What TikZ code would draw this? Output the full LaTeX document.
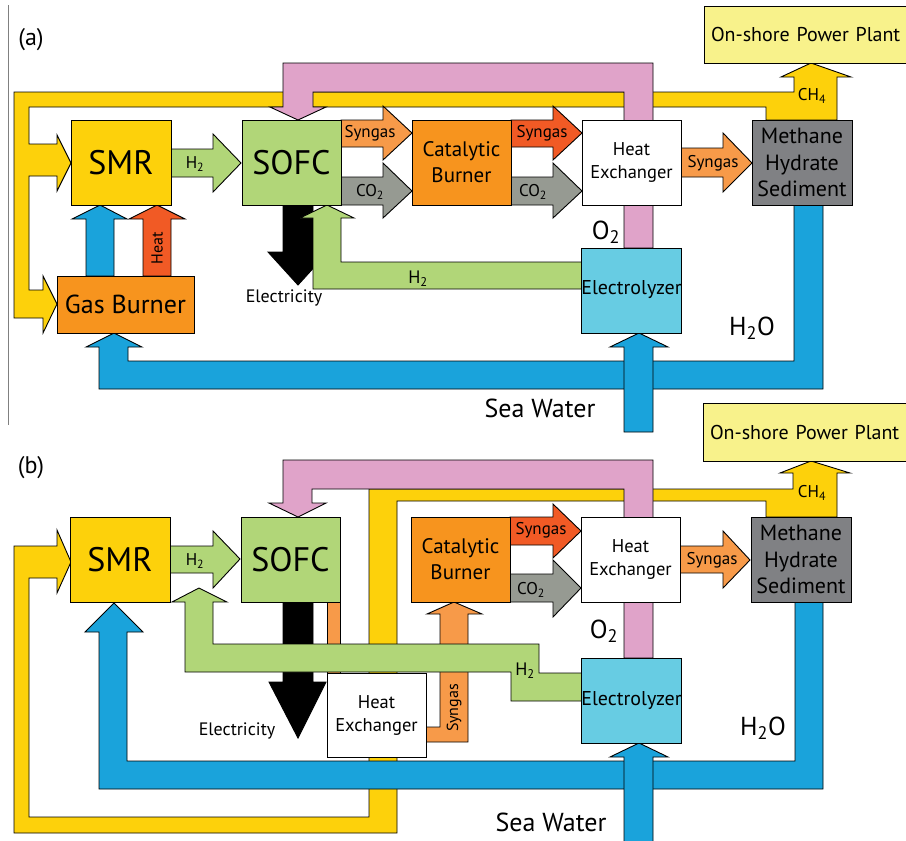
\documentclass[tikz,border=0pt]{standalone}
\usepackage{fontspec}
\setmainfont{PT Sans}
\usetikzlibrary{positioning}

\definecolor{yel}{HTML}{FDD10B}
\definecolor{pinkpipe}{HTML}{E0A3C9}
\definecolor{grn}{HTML}{B1D678}
\definecolor{blu}{HTML}{1AA3DB}
\definecolor{cyanbox}{HTML}{67CCE3}
\definecolor{orng}{HTML}{F7941E}
\definecolor{lorng}{HTML}{F79A49}
\definecolor{redor}{HTML}{F15A25}
\definecolor{gasgray}{HTML}{969A92}
\definecolor{sedgray}{HTML}{808184}
\definecolor{plantyel}{HTML}{F8F28B}

\newcommand{\fs}[1]{\fontsize{#1}{#1}\selectfont}
\newcommand{\subs}[1]{\textsubscript{#1}}

\begin{document}
\begin{tikzpicture}[x=1pt, y=-1pt,
    box/.style={draw, line width=0.9pt, inner sep=0pt, align=center},
    pipe/.style={draw, line width=0.9pt, line join=miter},
    lbl/.style={inner sep=0pt, align=center},
    huge/.style={font=\fs{34}},
    mid/.style={font=\fontsize{21}{26}\selectfont},
    small/.style={font=\fs{17}}
  ]
  \useasboundingbox (0,0) rectangle (906,841);
  \clip (0,0) rectangle (906,841);

  \draw[gray, line width=0.8pt] (8,5) -- (8,425);

  % ===================== (a) =====================
  \node[lbl, font=\fs{24}] (tagA) at (31,40) {(a)};

  % --- methane loop (behind the oxygen pipe) ---
  \filldraw[pipe, fill=yel] (14,92) -- (794,92) -- (794,77) -- (781,77) -- (811,63)
    -- (851,77) -- (837,77) -- (837,120) -- (766,120) -- (766,107) -- (29,107)
    -- (29,144) -- (57,144) -- (57,135) -- (71,163) -- (57,191) -- (57,176)
    -- (29,176) -- (29,290) -- (43,290) -- (43,276) -- (57,304) -- (43,333)
    -- (43,318) -- (14,318) -- cycle;

  % --- oxygen back to the SOFC ---
  \filldraw[pipe, fill=pinkpipe] (283,63) -- (653,63) -- (653,248) -- (624,248)
    -- (624,92) -- (313,92) -- (313,107) -- (326,107) -- (298,120) -- (270,107)
    -- (283,107) -- cycle;

  % --- electricity out ---
  \filldraw[pipe, fill=black] (283,205) -- (313,205) -- (313,252) -- (328,252)
    -- (298,285) -- (268,252) -- (283,252) -- cycle;

  % --- hydrogen from the electrolyzer ---
  \filldraw[pipe, fill=grn] (582,262) -- (341,262) -- (341,218) -- (354,218)
    -- (327,205) -- (300,218) -- (313,218) -- (313,289) -- (582,289) -- cycle;

  % --- water loop ---
  \filldraw[pipe, fill=blu] (794,205) -- (823,205) -- (823,389) -- (99,389)
    -- (99,347) -- (86,347) -- (114,333) -- (142,347) -- (128,347) -- (128,361)
    -- (794,361) -- cycle;
  \filldraw[pipe, fill=blu] (624,432) -- (624,347) -- (610,347) -- (639,333)
    -- (668,347) -- (653,347) -- (653,432) -- cycle;

  % --- short arrows ---
  \filldraw[pipe, fill=grn] (171,149) -- (213,149) -- (213,134) -- (241,163)
    -- (213,192) -- (213,177) -- (171,177) -- cycle;
  \filldraw[pipe, fill=lorng] (341,120) -- (383,120) -- (383,106) -- (412,133)
    -- (383,160) -- (383,147) -- (341,147) -- cycle;
  \filldraw[pipe, fill=gasgray] (341,177) -- (383,177) -- (383,163) -- (412,191)
    -- (383,218) -- (383,205) -- (341,205) -- cycle;
  \filldraw[pipe, fill=redor] (511,120) -- (553,120) -- (553,106) -- (582,133)
    -- (553,160) -- (553,147) -- (511,147) -- cycle;
  \filldraw[pipe, fill=gasgray] (511,177) -- (553,177) -- (553,163) -- (582,191)
    -- (553,218) -- (553,205) -- (511,205) -- cycle;
  \filldraw[pipe, fill=lorng] (681,148) -- (723,148) -- (723,133) -- (752,163)
    -- (723,192) -- (723,177) -- (681,177) -- cycle;
  \filldraw[pipe, fill=blu] (86,276) -- (86,219) -- (72,219) -- (100,205)
    -- (127,219) -- (114,219) -- (114,276) -- cycle;
  \filldraw[pipe, fill=redor] (143,276) -- (143,219) -- (129,219) -- (157,205)
    -- (185,219) -- (171,219) -- (171,276) -- cycle;

  % --- units ---
  \node[box, fill=yel, huge, minimum width=100pt, minimum height=85pt] (smrA) at (121,162.5) {SMR};
  \node[box, fill=grn, huge, minimum width=99pt, minimum height=85pt] (sofcA) at (291.5,162.5) {SOFC};
  \node[box, fill=orng, mid, minimum width=99pt, minimum height=85pt] (catA) at (461.5,162.5) {Catalytic\\Burner};
  \node[box, fill=white, font=\fontsize{18.5}{23}\selectfont, minimum width=99pt, minimum height=85pt] (hxA) at (631.5,162.5) {Heat\\Exchanger};
  \node[box, fill=sedgray, font=\fontsize{22}{26.5}\selectfont, minimum width=100pt, minimum height=85pt] (sedA) at (802,162.5) {Methane\\Hydrate\\Sediment};
  \node[box, fill=orng, font=\fs{26}, minimum width=137pt, minimum height=57pt] (burnerA) at (125.5,304.5) {Gas Burner};
  \node[box, fill=cyanbox, font=\fs{20}, minimum width=99pt, minimum height=85pt] (elecA) at (631.5,290.5) {\raisebox{7pt}{Electrolyzer}};
  \node[box, fill=plantyel, font=\fs{20}, minimum width=260pt, minimum height=57pt, text width=246pt, align=left] (plantA) at (834,34.5) {On-shore Power Plant};

  % --- labels ---
  \node[lbl, font=\fs{16}, rotate=90] (heatA) at (157,248) {Heat};
  \node[lbl, small] (h2smrA) at (195,164) {H\subs{2}};
  \node[lbl, font=\fs{17}] (syn1A) at (370,133) {Syngas};
  \node[lbl, font=\fs{17}] (co1A) at (370,192) {CO\subs{2}};
  \node[lbl, font=\fs{17}] (syn2A) at (542,133) {Syngas};
  \node[lbl, font=\fs{17}] (co2A) at (533,192) {CO\subs{2}};
  \node[lbl, font=\fs{17}] (syn3A) at (713,163) {Syngas};
  \node[lbl, font=\fs{17}] (ch4A) at (812,96) {CH\subs{4}};
  \node[lbl, font=\fs{18}] (elA) at (284,298) {Electricity};
  \node[lbl, font=\fs{18}] (h2retA) at (418,279) {H\subs{2}};
  \node[lbl, font=\fs{26}] (o2A) at (606,232) {O\subs{2}};
  \node[lbl, font=\fs{26}] (h2oA) at (752,328) {H\subs{2}O};
  \node[lbl, font=\fs{26}] (seaA) at (540,408) {Sea Water};

  % ===================== (b) =====================
  \node[lbl, font=\fs{24}] (tagB) at (31,468) {(b)};

  % --- methane loop (behind everything) ---
  \filldraw[pipe, fill=yel] (369,489) -- (793,489) -- (793,473) -- (780,473) -- (811,461)
    -- (850,473) -- (837,473) -- (837,517) -- (766,517) -- (766,501) -- (397,501)
    -- (397,833) -- (14,833) -- (14,546) -- (57,546) -- (57,530) -- (71,562)
    -- (57,593) -- (57,578) -- (29,578) -- (29,817) -- (369,817) -- cycle;

  % --- oxygen back to the SOFC ---
  \filldraw[pipe, fill=pinkpipe] (283,460) -- (653,460) -- (653,658) -- (624,658)
    -- (624,489) -- (312,489) -- (312,503) -- (326,503) -- (298,517) -- (269,503)
    -- (283,503) -- cycle;

  % --- electricity out and SOFC exhaust ---
  \filldraw[pipe, fill=black] (283,602) -- (313,602) -- (313,682) -- (326,682)
    -- (298,738) -- (269,682) -- (283,682) -- cycle;
  \filldraw[pipe, fill=lorng] (327,602) -- (340,602) -- (340,673) -- (327,673) -- cycle;
  \filldraw[pipe, fill=lorng] (426,727) -- (440,727) -- (440,614) -- (427,614)
    -- (454,602) -- (482,614) -- (468,614) -- (468,742) -- (426,742) -- cycle;

  % --- hydrogen from the electrolyzer ---
  \filldraw[pipe, fill=grn] (582,673) -- (539,673) -- (539,644) -- (213,644)
    -- (213,602) -- (227,602) -- (199,588) -- (172,602) -- (185,602) -- (185,672)
    -- (511,672) -- (511,701) -- (582,701) -- cycle;

  % --- water loop ---
  \filldraw[pipe, fill=blu] (795,602) -- (823,602) -- (823,789) -- (99,789)
    -- (99,632) -- (85,632) -- (114,603) -- (143,632) -- (127,632) -- (127,761)
    -- (795,761) -- cycle;
  \filldraw[pipe, fill=blu] (624,850) -- (624,757) -- (610,757) -- (639,743)
    -- (668,757) -- (653,757) -- (653,850) -- cycle;

  % --- short arrows ---
  \filldraw[pipe, fill=grn] (170,546) -- (213,546) -- (213,531) -- (240,559)
    -- (213,588) -- (213,573) -- (170,573) -- cycle;
  \filldraw[pipe, fill=redor] (510,517) -- (553,517) -- (553,504) -- (581,531)
    -- (553,558) -- (553,545) -- (510,545) -- cycle;
  \filldraw[pipe, fill=gasgray] (510,574) -- (553,574) -- (553,560) -- (581,588)
    -- (553,617) -- (553,602) -- (510,602) -- cycle;
  \filldraw[pipe, fill=lorng] (680,546) -- (723,546) -- (723,531) -- (750,560)
    -- (723,588) -- (723,573) -- (680,573) -- cycle;

  % --- units ---
  \node[box, fill=yel, huge, minimum width=100pt, minimum height=85pt] (smrB) at (120,559.5) {SMR};
  \node[box, fill=grn, huge, minimum width=99pt, minimum height=85pt] (sofcB) at (290.5,559.5) {SOFC};
  \node[box, fill=orng, mid, minimum width=99pt, minimum height=85pt] (catB) at (460.5,559.5) {Catalytic\\Burner};
  \node[box, fill=white, font=\fontsize{18.5}{23}\selectfont, minimum width=99pt, minimum height=85pt] (hxB) at (630.5,559.5) {Heat\\Exchanger};
  \node[box, fill=sedgray, font=\fontsize{22}{26.5}\selectfont, minimum width=100pt, minimum height=85pt] (sedB) at (801,559.5) {Methane\\Hydrate\\Sediment};
  \node[box, fill=white, font=\fontsize{18.5}{23}\selectfont, minimum width=99pt, minimum height=84pt] (hxlowB) at (376.5,715) {Heat\\Exchanger};
  \node[box, fill=cyanbox, font=\fs{20}, minimum width=99pt, minimum height=85pt] (elecB) at (631.5,700.5) {\raisebox{5pt}{Electrolyzer}};
  \node[box, fill=plantyel, font=\fs{20}, minimum width=260pt, minimum height=58pt, text width=246pt, align=left] (plantB) at (833,432) {On-shore Power Plant};

  % --- labels ---
  \node[lbl, small] (h2smrB) at (195,561) {H\subs{2}};
  \node[lbl, font=\fs{17}] (syn2B) at (541,530) {Syngas};
  \node[lbl, font=\fs{17}] (co2B) at (531,590) {CO\subs{2}};
  \node[lbl, font=\fs{17}] (syn3B) at (712,560) {Syngas};
  \node[lbl, font=\fs{16}, rotate=90] (syn1B) at (454,708) {Syngas};
  \node[lbl, font=\fs{17}] (ch4B) at (812,493) {CH\subs{4}};
  \node[lbl, font=\fs{18}] (elB) at (237,731) {Electricity};
  \node[lbl, font=\fs{18}] (h2retB) at (525,671) {H\subs{2}};
  \node[lbl, font=\fs{26}] (o2B) at (604,631) {O\subs{2}};
  \node[lbl, font=\fs{26}] (h2oB) at (763,728) {H\subs{2}O};
  \node[lbl, font=\fs{26}] (seaB) at (551,822) {Sea Water};

\end{tikzpicture}
\end{document}
